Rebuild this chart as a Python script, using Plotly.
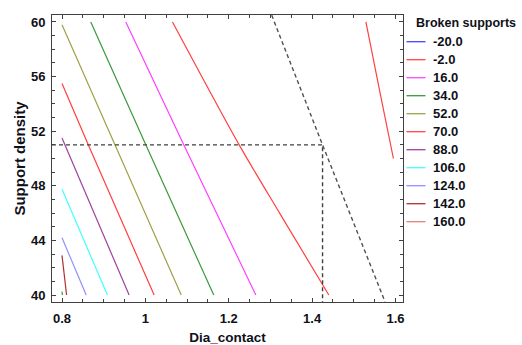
import plotly.graph_objects as go

# ---------------- data ----------------
levels = [-20.0, -2.0, 16.0, 34.0, 52.0, 70.0, 88.0, 106.0, 124.0, 142.0, 160.0]
legend_labels = ["-20.0", "-2.0", "16.0", "34.0", "52.0", "70.0", "88.0", "106.0", "124.0", "142.0", "160.0"]

line_x_m20 = [1.529, 1.563, 1.595]
line_y_m20 = [60.0, 54.8, 50.0]
line_x_m2 = [1.065, 1.225, 1.322, 1.440]
line_y_m2 = [60.0, 51.0, 46.0, 40.0]
line_x_16 = [0.953, 1.092, 1.265]
line_y_16 = [60.0, 51.0, 40.0]
line_x_34 = [0.869, 1.001, 1.164]
line_y_34 = [60.0, 51.0, 40.0]
line_x_52 = [0.800, 0.927, 1.086]
line_y_52 = [59.8, 51.0, 40.0]
line_x_70 = [0.800, 0.863, 1.021]
line_y_70 = [55.5, 51.0, 40.0]
line_x_88 = [0.800, 0.961]
line_y_88 = [51.5, 40.0]
line_x_106 = [0.800, 0.909]
line_y_106 = [47.75, 40.0]
line_x_124 = [0.800, 0.858]
line_y_124 = [44.2, 40.0]
line_x_142 = [0.800, 0.811]
line_y_142 = [42.9, 40.0]
line_x_160 = [0.800, 0.801]
line_y_160 = [40.25, 40.0]

contour_x = [line_x_m20, line_x_m2, line_x_16, line_x_34, line_x_52, line_x_70,
             line_x_88, line_x_106, line_x_124, line_x_142, line_x_160]
contour_y = [line_y_m20, line_y_m2, line_y_16, line_y_34, line_y_52, line_y_70,
             line_y_88, line_y_106, line_y_124, line_y_142, line_y_160]

# optimum / reference point and constraint line
opt_x = 1.425
opt_y = 51.0
diag_x = [1.303, 1.425, 1.575]
diag_y = [60.5, 51.0, 39.5]

x_ticks = [0.8, 1.0, 1.2, 1.4, 1.6]
x_ticktext = ["0.8", "1", "1.2", "1.4", "1.6"]
y_ticks = [40, 44, 48, 52, 56, 60]

# ---------------- styles ----------------
legend_colors = ["#4646ff", "#ff4646", "#ff46ff", "#3a9a3a", "#a0a050", "#ff4646",
                 "#a040a0", "#46ffff", "#9090ff", "#b03030", "#e08080"]
plot_colors = ["#ff4040", "#ff4040", "#ff40ff", "#3a9a3a", "#a0a048", "#ff4040",
               "#a040a0", "#40ffff", "#9090ff", "#b03030", "#30a030"]

FONT = "Liberation Sans, Arial, sans-serif"
TXT = "#101018"

W, H = 522, 345
L, R, T, B = 52, 403, 15, 302   # plot area in pixels
x_range = [0.776, 1.618]
y_range = [39.49, 60.51]

fig = go.Figure()

for lev, xs, ys, col in zip(levels, contour_x, contour_y, plot_colors):
    fig.add_trace(go.Scatter(x=xs, y=ys, mode="lines", name=f"{lev:.1f}",
                             line=dict(color=col, width=1.2, shape="spline", smoothing=0.8),
                             showlegend=False, hoverinfo="skip"))

# dashed reference lines
fig.add_trace(go.Scatter(x=[x_range[0], opt_x, opt_x], y=[opt_y, opt_y, y_range[0]],
                         mode="lines", line=dict(color="#404040", width=1.4, dash="4px,3px"),
                         showlegend=False, hoverinfo="skip"))
fig.add_trace(go.Scatter(x=diag_x, y=diag_y, mode="lines",
                         line=dict(color="#505050", width=1.4, dash="4px,3px"),
                         showlegend=False, hoverinfo="skip"))

# ---------------- manual legend ----------------
def px_x(p):
    return (p - L) / (R - L)

def px_y(p):
    return (B - p) / (B - T)

shapes = []
annotations = []
annotations.append(dict(x=px_x(414), y=px_y(23), xref="paper", yref="paper",
                        text="<b>Broken supports</b>", showarrow=False,
                        xanchor="left", yanchor="middle",
                        font=dict(family=FONT, size=12.5, color=TXT)))
for i, (lab, col) in enumerate(zip(legend_labels, legend_colors)):
    yc = 41.7 + 18.0 * i
    shapes.append(dict(type="line", xref="paper", yref="paper",
                       x0=px_x(406.5), x1=px_x(425.5), y0=px_y(yc), y1=px_y(yc),
                       line=dict(color=col, width=1.3)))
    annotations.append(dict(x=px_x(430.5), y=px_y(yc), xref="paper", yref="paper",
                            text=f"<b>{lab}</b>", showarrow=False,
                            xanchor="left", yanchor="middle",
                            font=dict(family=FONT, size=13, color=TXT)))

axis_common = dict(showline=True, mirror="allticks", linecolor="#404040", linewidth=1,
                   ticks="inside", ticklen=4, tickcolor="#404040", tickwidth=1,
                   showgrid=False, zeroline=False, automargin=False,
                   tickfont=dict(family=FONT, size=13, color=TXT, weight="bold"))

fig.update_layout(
    width=W, height=H,
    margin=dict(l=L, r=W - R, t=T, b=H - B),
    paper_bgcolor="white", plot_bgcolor="white",
    showlegend=False,
    shapes=shapes, annotations=annotations,
    xaxis=dict(range=x_range, tickvals=x_ticks, ticktext=x_ticktext,
               minor=dict(ticks="inside", dtick=0.05, tick0=0.8, ticklen=3, tickcolor="#404040"),
               ticklabelstandoff=4,
               title=dict(text="<b>Dia_contact</b>", standoff=12,
                          font=dict(family=FONT, size=13.5, color=TXT)),
               **axis_common),
    yaxis=dict(range=y_range, tickvals=y_ticks,
               minor=dict(ticks="inside", dtick=1, tick0=40, ticklen=3, tickcolor="#404040"),
               ticklabelstandoff=3,
               title=dict(text="<b>Support density</b>", standoff=1,
                          font=dict(family=FONT, size=15, color=TXT)),
               **axis_common),
)

fig.write_html("out.html")
